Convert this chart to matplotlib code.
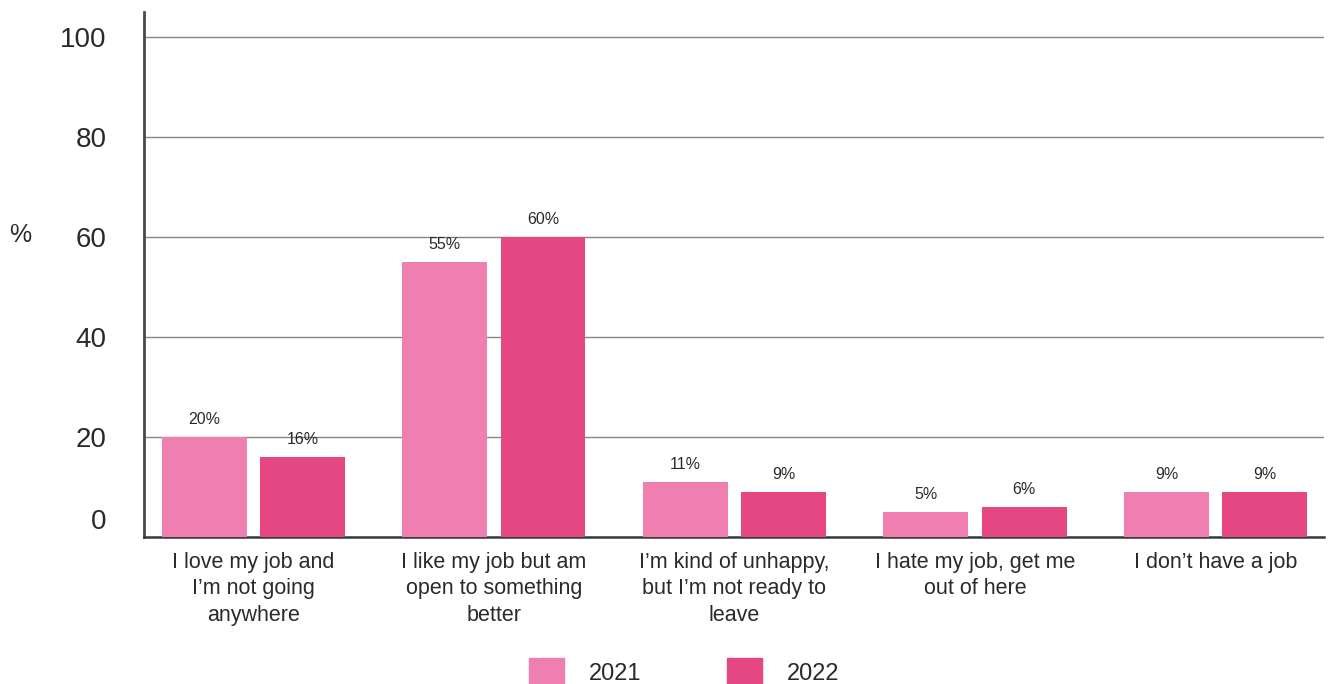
import matplotlib
matplotlib.use("Agg")
import matplotlib.pyplot as plt
from matplotlib.patches import Patch
import numpy as np

# survey answers, share of respondents (%)
categories = [
    "I love my job and\nI\u2019m not going\nanywhere",
    "I like my job but am\nopen to something\nbetter",
    "I\u2019m kind of unhappy,\nbut I\u2019m not ready to\nleave",
    "I hate my job, get me\nout of here",
    "I don\u2019t have a job",
]
values_2021 = [20, 55, 11, 5, 9]
values_2022 = [16, 60, 9, 6, 9]
series_labels = ["2021", "2022"]
yticks = [0, 20, 40, 60, 80, 100]

COL_2021 = "#F07FB1"
COL_2022 = "#E44782"
TEXT = "#2a2a2a"
GRID = "#8a847c"

plt.rcParams["font.family"] = ["Liberation Sans", "DejaVu Sans"]

fig = plt.figure(figsize=(13.29, 6.84), dpi=100)
ax = fig.add_axes([144 / 1329, 147 / 684, (1324 - 144) / 1329, (537 - 12) / 684])

x = np.arange(len(categories))
w = 0.353
off = 0.204
b1 = ax.bar(x - off, values_2021, w, color=COL_2021, zorder=3)
b2 = ax.bar(x + off, values_2022, w, color=COL_2022, zorder=3)

for bars, vals in ((b1, values_2021), (b2, values_2022)):
    for r, v in zip(bars, vals):
        ax.annotate(f"{v}%", (r.get_x() + r.get_width() / 2, v),
                    xytext=(0, 7), textcoords="offset points",
                    ha="center", va="bottom", fontsize=11.5, color=TEXT)

ax.set_xlim(-0.455, 4.451)
ax.set_ylim(0, 105)
ax.set_yticks(yticks)
ax.set_yticklabels([str(t) if t else "" for t in yticks])
ax.tick_params(axis="y", length=0, pad=27, labelsize=20, labelcolor=TEXT)
# the zero label sits a little above the baseline
ax.annotate("0", (0, 0), xycoords=("axes fraction", "data"),
            xytext=(-27, 11), textcoords="offset points",
            ha="right", va="center", fontsize=20, color=TEXT)

ax.set_xticks(x)
ax.set_xticklabels(categories, fontsize=15.5, color=TEXT, linespacing=1.32)
ax.tick_params(axis="x", length=0, pad=11)

ax.grid(axis="y", color=GRID, linewidth=1.0, zorder=0)
ax.set_axisbelow(True)
for s in ("top", "right"):
    ax.spines[s].set_visible(False)
ax.spines["left"].set_color("#4a4a4a")
ax.spines["left"].set_linewidth(2)
ax.spines["bottom"].set_color("#3a3a3a")
ax.spines["bottom"].set_linewidth(1.8)

fig.text(20 / 1329, 1 - 235 / 684, "%", fontsize=18, color=TEXT,
         ha="center", va="center")

handles = [Patch(color=COL_2021), Patch(color=COL_2022)]
fig.legend(handles, series_labels, loc="center",
           bbox_to_anchor=(684 / 1329, 12 / 684), ncol=2, frameon=False,
           fontsize=17, handlelength=1.5, handleheight=1.5,
           handletextpad=1.05, columnspacing=3.6, borderpad=0,
           labelcolor=TEXT)

fig.savefig("out.png", dpi=100)
